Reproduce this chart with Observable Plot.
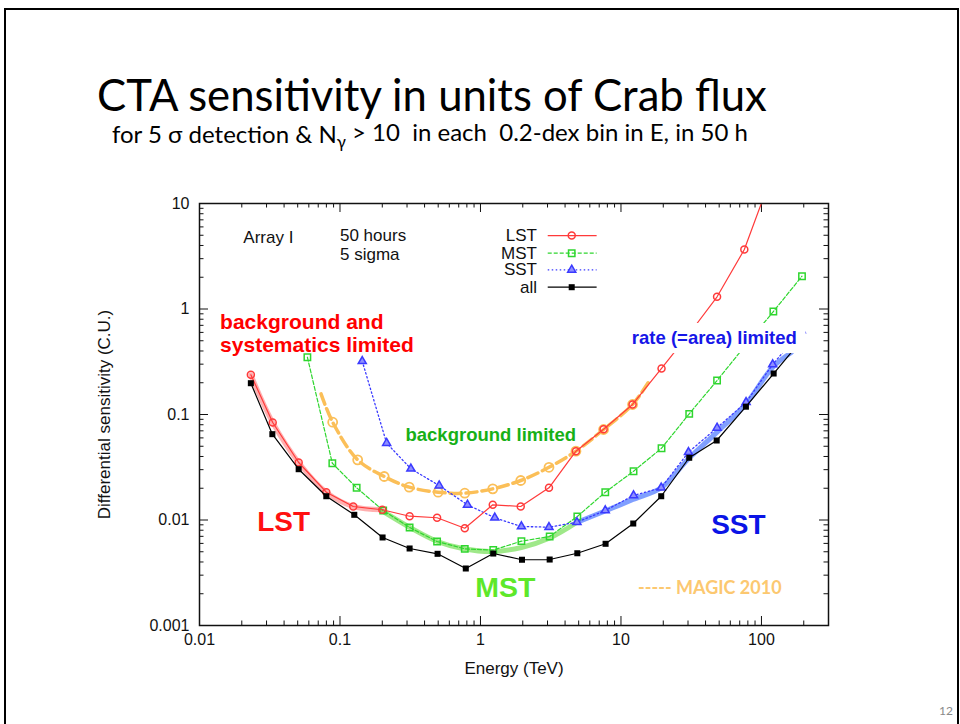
<!DOCTYPE html>
<html><head><meta charset="utf-8">
<script src="https://cdn.jsdelivr.net/npm/d3@7"></script>
<script src="https://cdn.jsdelivr.net/npm/@observablehq/plot@0.6"></script>
<style>
html,body{margin:0;padding:0;background:#fff;}
#slide{position:relative;width:960px;height:724px;overflow:hidden;background:#fff;}
#chart{position:absolute;left:0;top:0;}
#head{position:absolute;left:0;top:0;pointer-events:none;}
#border{position:absolute;left:4px;top:8px;width:955px;height:760px;border:2px solid #000;box-sizing:border-box;pointer-events:none;}
#chart svg g[aria-label*="axis"] text{font-size:16px;}
</style></head>
<body>
<div id="slide">
  <div id="chart"></div>
  <svg id="head" width="960" height="724">
    <text id="title" x="97" y="111" font-family="Lato, 'Open Sans', sans-serif" font-size="44" fill="#000">CTA sensitivity in units of Crab flux</text>
    <text id="sub" x="112" y="143" font-family="Lato, 'Open Sans', 'Noto Sans', sans-serif" font-size="21" fill="#000" style="white-space:pre">for 5 σ detection &amp; N<tspan dy="0.3em" font-size="0.7em">γ</tspan><tspan dy="-0.3em"> &gt; 10  in each  0.2-dex bin in E, in 50 h</tspan></text>
    <text x="953" y="715" text-anchor="end" font-family="Lato, sans-serif" font-size="12" fill="#8a8a8a">12</text>
  </svg>
  <div id="border"></div>
</div>
<script>
// ---- data (energy in TeV, sensitivity in Crab units) ----
const lstE = [0.0232, 0.0332, 0.0508, 0.0799, 0.1243, 0.200, 0.313, 0.491, 0.773, 1.223, 1.934, 3.073, 4.78, 7.52, 12.09, 19.44, 30.7, 48.3, 75.5, 119.5];
const lstS = [0.238, 0.0839, 0.0351, 0.01835, 0.01343, 0.0125, 0.01086, 0.0105, 0.00836, 0.01393, 0.01343, 0.0202, 0.0449, 0.0726, 0.1244, 0.273, 0.586, 1.305, 3.66, 19.2];

const mstE = [0.0586, 0.0882, 0.1314, 0.203, 0.313, 0.491, 0.773, 1.233, 1.956, 3.108, 4.89, 7.73, 12.29, 19.44, 30.6, 48.3, 76.8, 121.5, 194.3];
const mstS = [0.349, 0.0345, 0.0202, 0.0123, 0.0085, 0.00625, 0.00533, 0.00519, 0.0063, 0.00698, 0.0108, 0.01835, 0.029, 0.0479, 0.1015, 0.21, 0.451, 0.946, 2.046];

const sstE = [0.144, 0.2148, 0.3196, 0.508, 0.808, 1.264, 1.956, 3.073, 4.86, 7.73, 12.29, 19.34, 30.23, 48.3, 77.7, 120.2, 192];
const sstS = [0.32, 0.0535, 0.0306, 0.0212, 0.01393, 0.0105, 0.00868, 0.00855, 0.00953, 0.0123, 0.01707, 0.0202, 0.0439, 0.0748, 0.1308, 0.298, 0.625];

const allE = [0.0232, 0.033, 0.0508, 0.0799, 0.1264, 0.201, 0.313, 0.495, 0.786, 1.233, 1.975, 3.108, 4.89, 7.77, 12.23, 19.34, 30.6, 48.0, 77.5, 122.1, 192];
const allS = [0.198, 0.0651, 0.0303, 0.0168, 0.0112, 0.00683, 0.00537, 0.00478, 0.00347, 0.00481, 0.0042, 0.00422, 0.00484, 0.00595, 0.00926, 0.0168, 0.0389, 0.0567, 0.1186, 0.2446, 0.503];

const magicE = [0.0733, 0.0887, 0.1336, 0.2064, 0.311, 0.4997, 0.773, 1.223, 1.934, 3.073, 4.78, 7.52, 12.09, 15.97];
const magicS = [0.157, 0.0845, 0.0372, 0.02584, 0.02047, 0.01835, 0.01795, 0.01975, 0.02368, 0.0316, 0.0449, 0.0721, 0.1244, 0.21];

// highlighted regimes (thick translucent bands)
const bandLstE = [0.0232, 0.0332, 0.0508, 0.0799, 0.1243, 0.200];
const bandLstS = [0.238, 0.0839, 0.0351, 0.01835, 0.01343, 0.0125];
const bandMstE = [0.202, 0.3144, 0.4932, 0.773, 1.223, 1.956, 3.108, 4.835];
const bandMstS = [0.01205, 0.00849, 0.00626, 0.00531, 0.00503, 0.00549, 0.00675, 0.00947];
const bandSstE = [4.835, 7.86, 12.15, 19.34, 30.23, 48.3, 77.7, 120.2, 163];
const bandSstS = [0.00947, 0.0123, 0.01564, 0.0202, 0.038, 0.068, 0.1263, 0.2807, 0.387];

// ticks
const xMajor = [0.01, 0.1, 1, 10, 100];
const xTickLabels = ["0.01", "0.1", "1", "10", "100"];
const xMinor = [0.02,0.03,0.04,0.05,0.06,0.07,0.08,0.09, 0.2,0.3,0.4,0.5,0.6,0.7,0.8,0.9, 2,3,4,5,6,7,8,9, 20,30,40,50,60,70,80,90, 200];
const yMajor = [0.001, 0.01, 0.1, 1, 10];
const yTickLabels = ["0.001", "0.01", "0.1", "1", "10"];
const yMinor = [0.002,0.003,0.004,0.005,0.006,0.007,0.008,0.009, 0.02,0.03,0.04,0.05,0.06,0.07,0.08,0.09, 0.2,0.3,0.4,0.5,0.6,0.7,0.8,0.9, 2,3,4,5,6,7,8,9];

const legendLabels = ["LST", "MST", "SST", "all"];

// ---- build ----
const zip = (E, S) => E.map((e, i) => ({E: e, S: S[i]}));
const lst = zip(lstE, lstS), mst = zip(mstE, mstS), sst = zip(sstE, sstS), all = zip(allE, allS), magic = zip(magicE, magicS);

const C = {lst: "#ff3a3a", mst: "#2fd62f", sst: "#3a3aff", all: "#000", magic: "#fbbf58"};
const FONT = "'Liberation Sans', Arial, Helvetica, sans-serif";
const FW = 629, FH = 422; // frame size in px

const note = (txt, E, S, o) => Plot.text([txt], {x: [E], y: [S], text: d => d, fontFamily: FONT, ...o});

const legendY = [4.97, 3.38, 2.353, 1.609];
const legStyle = [
  {stroke: C.lst, strokeWidth: 1.2},
  {stroke: C.mst, strokeWidth: 1.2, strokeDasharray: "4,2"},
  {stroke: C.sst, strokeWidth: 1.3, strokeDasharray: "1.5,2.5"},
  {stroke: C.all, strokeWidth: 1.2}
];
const legSym = [
  {symbol: "circle", r: 3.5, stroke: C.lst, fill: "none"},
  {symbol: "square", r: 3.6, stroke: C.mst, fill: "none"},
  {symbol: "triangle", r: 3, stroke: C.sst, fill: "#8f8fff"},
  {symbol: "square", r: 3.4, fill: "#000", stroke: "none"}
];

const marks = [
  // inward ticks on all four sides
  Plot.tickX(xMajor, {x: d => d, insetTop: FH - 9, stroke: "#111"}),
  Plot.tickX(xMinor, {x: d => d, insetTop: FH - 4.5, stroke: "#111"}),
  Plot.tickX(xMajor, {x: d => d, insetBottom: FH - 9, stroke: "#111"}),
  Plot.tickX(xMinor, {x: d => d, insetBottom: FH - 4.5, stroke: "#111"}),
  Plot.tickY(yMajor, {y: d => d, insetRight: FW - 9, stroke: "#111"}),
  Plot.tickY(yMinor, {y: d => d, insetRight: FW - 4.5, stroke: "#111"}),
  Plot.tickY(yMajor, {y: d => d, insetLeft: FW - 9, stroke: "#111"}),
  Plot.tickY(yMinor, {y: d => d, insetLeft: FW - 4.5, stroke: "#111"}),

  // regime bands
  Plot.line(zip(bandLstE, bandLstS), {x: "E", y: "S", stroke: "#ff5050", strokeWidth: 5, strokeOpacity: 0.45, curve: "catmull-rom"}),
  Plot.line(zip(bandMstE, bandMstS), {x: "E", y: "S", stroke: "#5fd83a", strokeWidth: 5, strokeOpacity: 0.6, curve: "catmull-rom"}),
  Plot.line(zip(bandSstE, bandSstS), {x: "E", y: "S", stroke: "#3c6cff", strokeWidth: 5, strokeOpacity: 0.65, curve: "catmull-rom"}),

  // MAGIC 2010
  Plot.line(magic, {x: "E", y: "S", stroke: C.magic, strokeWidth: 3.5, strokeDasharray: "11,5", curve: "catmull-rom"}),
  Plot.dot(magic.filter((d, i) => i > 0 && i < magic.length - 1), {x: "E", y: "S", r: 4.5, stroke: C.magic, strokeWidth: 1.8, fill: "none"}),

  // series
  Plot.line(mst, {x: "E", y: "S", stroke: C.mst, strokeWidth: 1.2, strokeDasharray: "4,2"}),
  Plot.dot(mst, {x: "E", y: "S", symbol: "square", r: 3.6, stroke: C.mst, fill: "none"}),
  Plot.line(sst, {x: "E", y: "S", stroke: C.sst, strokeWidth: 1.3, strokeDasharray: "1.5,2.5"}),
  Plot.dot(sst, {x: "E", y: "S", symbol: "triangle", r: 3, stroke: C.sst, fill: "#8f8fff"}),
  Plot.line(lst, {x: "E", y: "S", stroke: C.lst, strokeWidth: 1.2, clip: true}),
  Plot.dot(lst, {x: "E", y: "S", r: 3.5, stroke: C.lst, fill: "none", clip: true}),
  Plot.line(all, {x: "E", y: "S", stroke: C.all, strokeWidth: 1.2}),
  Plot.dot(all, {x: "E", y: "S", symbol: "square", r: 3.4, fill: "#000"}),

  // legend
  ...legendLabels.flatMap((lab, i) => [
    note(lab, 2.525, legendY[i], {textAnchor: "end", fontSize: 17, fill: "#111"}),
    Plot.link([lab], {x1: [3.01], x2: [6.71], y1: [legendY[i]], y2: [legendY[i]], ...legStyle[i]}),
    Plot.dot([lab], {x: [4.46], y: [legendY[i]], ...legSym[i]})
  ]),

  // in-plot labels
  note("Array I", 0.0205, 4.76, {textAnchor: "start", fontSize: 17, fill: "#111"}),
  note("50 hours", 0.1, 4.98, {textAnchor: "start", fontSize: 17, fill: "#111"}),
  note("5 sigma", 0.1, 3.29, {textAnchor: "start", fontSize: 17, fill: "#111"}),

  note("background and", 0.01402, 0.744, {textAnchor: "start", fontSize: 21, fontWeight: "bold", fill: "#ff0000"}),
  note("systematics limited", 0.01402, 0.451, {textAnchor: "start", fontSize: 21, fontWeight: "bold", fill: "#ff0000"}),
  note("background limited", 1.184, 0.0632, {fontSize: 18.5, fontWeight: "bold", fill: "#17b017"}),
  // white box behind the "rate (=area) limited" label, as in the reference
  Plot.rect([0], {x1: [11.14], x2: [207.5], y1: [0.378], y2: [0.729], fill: "white"}),
  note("rate (=area) limited", 46.2, 0.525, {fontSize: 18.5, fontWeight: "bold", fill: "#1616e8"}),
  note("LST", 0.0397, 0.00947, {fontSize: 28, fontWeight: "bold", fill: "#ff1010"}),
  note("MST", 1.50, 0.00229, {fontSize: 28.5, fontWeight: "bold", fill: "#5ee82a"}),
  note("SST", 68.5, 0.00887, {fontSize: 28, fontWeight: "bold", fill: "#0a14e6"}),
  note("----- MAGIC 2010", 42.9, 0.002244, {fontSize: 18, fontWeight: "bold", fill: "#fcc870", fontFamily: "Lato, 'Open Sans', sans-serif"}),

  // axis titles
  Plot.text(["Energy (TeV)"], {frameAnchor: "bottom", dy: 43, textAnchor: "middle", lineAnchor: "middle", fontSize: 17, fontFamily: FONT, fill: "#111"}),
  Plot.text(["Differential sensitivity (C.U.)"], {frameAnchor: "left", dx: -95, textAnchor: "middle", lineAnchor: "middle", rotate: -90, fontSize: 17, fontFamily: FONT, fill: "#111"}),

  Plot.frame({stroke: "#111", strokeWidth: 1.5})
];

const chart = Plot.plot({
  width: 960, height: 724,
  marginLeft: 199, marginRight: 132, marginTop: 203, marginBottom: 99,
  style: {fontFamily: FONT, fontSize: "16px", color: "#111", background: "transparent", overflow: "visible"},
  x: {type: "log", domain: [0.01, 300], ticks: xMajor, tickFormat: d => xTickLabels[xMajor.indexOf(d)], tickSize: 0, tickPadding: 8, label: null},
  y: {type: "log", domain: [0.001, 10], ticks: yMajor, tickFormat: d => yTickLabels[yMajor.indexOf(d)], tickSize: 0, tickPadding: 10, label: null},
  marks
});
document.getElementById("chart").appendChild(chart);

// fit the slide title/subtitle to the reference widths
function fit(id, target) {
  const el = document.getElementById(id);
  const fs = parseFloat(el.getAttribute("font-size"));
  const w = el.getBBox().width;
  if (w > 0) el.setAttribute("font-size", (fs * target / w).toFixed(2));
}
fit("title", 670);
fit("sub", 636);
</script>
</body></html>
